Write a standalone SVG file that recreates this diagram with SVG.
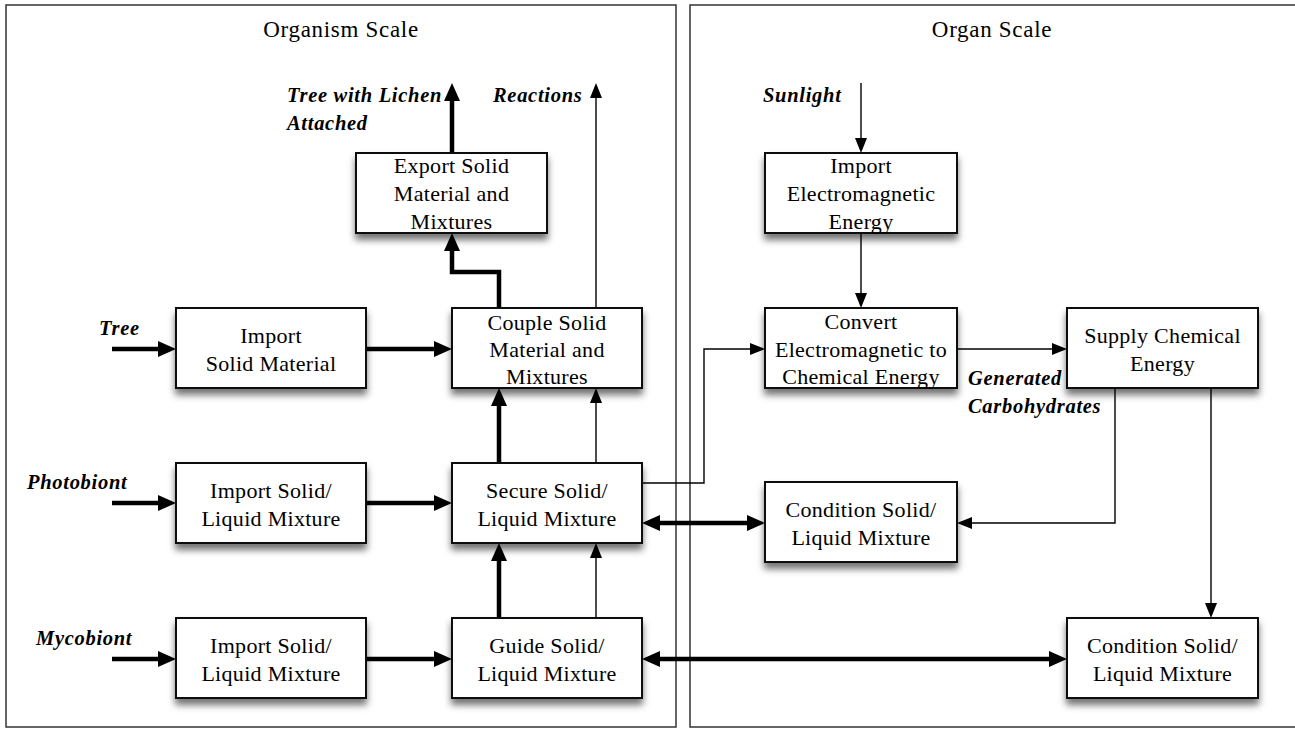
<svg xmlns="http://www.w3.org/2000/svg" width="1295" height="729" viewBox="0 0 1295 729">
<style>
.panel{fill:none;stroke:#333;stroke-width:1.5}
.box{fill:#fff;stroke:#111;stroke-width:2;filter:url(#sh)}
.bt{font-family:"Liberation Serif","Times New Roman",serif;font-size:22px;fill:#000;text-anchor:middle;letter-spacing:0.3px}
.hd{font-family:"Liberation Serif","Times New Roman",serif;font-size:23px;fill:#000;text-anchor:middle;letter-spacing:0.7px}
.lb{font-family:"Liberation Serif","Times New Roman",serif;font-size:20.5px;font-style:italic;font-weight:bold;fill:#000;letter-spacing:0.7px}
.thick{fill:none;stroke:#000;stroke-width:4.5;marker-end:url(#hT)}
.thin{fill:none;stroke:#000;stroke-width:1.4;marker-end:url(#ht)}
.thickb{fill:none;stroke:#000;stroke-width:4.5;marker-end:url(#hT);marker-start:url(#hT)}
</style>
<defs>
<filter id="sh" x="-10%" y="-10%" width="120%" height="150%">
<feDropShadow dx="0" dy="6" stdDeviation="3.5" flood-color="#000" flood-opacity="0.55"/>
</filter>
<marker id="hT" markerUnits="userSpaceOnUse" markerWidth="18" markerHeight="16" viewBox="0 0 18 16" refX="0" refY="8" orient="auto-start-reverse">
<path d="M0,0 L18,8 L0,16 z" fill="#000"/>
</marker>
<marker id="ht" markerUnits="userSpaceOnUse" markerWidth="15" markerHeight="12" viewBox="0 0 15 12" refX="0" refY="6" orient="auto-start-reverse">
<path d="M0,0 L15,6 L0,12 z" fill="#000"/>
</marker>
</defs>
<rect width="1295" height="729" fill="#fff"/>
<g id="panels">
<rect class="panel" x="6" y="5" width="670" height="722"/>
<rect class="panel" x="690" y="5" width="620" height="722"/>
<text class="hd" x="341" y="37">Organism Scale</text>
<text class="hd" x="992" y="37">Organ Scale</text>
</g>
<g id="connectors">
<path class="thick" d="M112,349 H158"/>
<path class="thick" d="M366,349 H434"/>
<path class="thick" d="M112,503 H158"/>
<path class="thick" d="M366,503 H434"/>
<path class="thick" d="M112,659 H158"/>
<path class="thick" d="M366,659 H434"/>
<path class="thick" d="M499,618 V561"/>
<path class="thin" d="M596,618 V558"/>
<path class="thick" d="M499,463 V406"/>
<path class="thin" d="M596,463 V403"/>
<path class="thick" d="M499,310 V272 H452 V251"/>
<path class="thick" d="M452,153 V101"/>
<path class="thin" d="M596,308 V98"/>
<path class="thickb" d="M660,523 H747"/>
<path class="thickb" d="M660,659 H1049"/>
<path class="thin" d="M642,483 H704 V349 H750"/>
<path class="thin" d="M861,83 V138"/>
<path class="thin" d="M861,233 V293"/>
<path class="thin" d="M957,349 H1052"/>
<path class="thin" d="M1115,388 V523 H972"/>
<path class="thin" d="M1211,388 V603"/>
</g>
<g id="labels">
<text class="lb" x="287" y="102">Tree with Lichen</text>
<text class="lb" x="287" y="130">Attached</text>
<text class="lb" x="493" y="102">Reactions</text>
<text class="lb" x="99" y="335">Tree</text>
<text class="lb" x="27" y="489">Photobiont</text>
<text class="lb" x="36" y="645">Mycobiont</text>
<text class="lb" x="763" y="102">Sunlight</text>
<text class="lb" x="968" y="385">Generated</text>
<text class="lb" x="968" y="413">Carbohydrates</text>
</g>
<g id="export">
<rect class="box" x="356" y="153" width="191" height="80"/>
<text class="bt" x="451.5" y="173">Export Solid</text>
<text class="bt" x="451.5" y="201">Material and</text>
<text class="bt" x="451.5" y="229">Mixtures</text>
</g>
<g id="import-solid">
<rect class="box" x="176" y="308" width="190" height="80"/>
<text class="bt" x="271" y="343">Import</text>
<text class="bt" x="271" y="371">Solid Material</text>
</g>
<g id="couple">
<rect class="box" x="452" y="308" width="190" height="80"/>
<text class="bt" x="547" y="330">Couple Solid</text>
<text class="bt" x="547" y="357">Material and</text>
<text class="bt" x="547" y="384">Mixtures</text>
</g>
<g id="import-photo">
<rect class="box" x="176" y="463" width="190" height="80"/>
<text class="bt" x="271" y="498">Import Solid/</text>
<text class="bt" x="271" y="526">Liquid Mixture</text>
</g>
<g id="secure">
<rect class="box" x="452" y="463" width="190" height="80"/>
<text class="bt" x="547" y="498">Secure Solid/</text>
<text class="bt" x="547" y="526">Liquid Mixture</text>
</g>
<g id="import-myco">
<rect class="box" x="176" y="618" width="190" height="80"/>
<text class="bt" x="271" y="653">Import Solid/</text>
<text class="bt" x="271" y="681">Liquid Mixture</text>
</g>
<g id="guide">
<rect class="box" x="452" y="618" width="190" height="80"/>
<text class="bt" x="547" y="653">Guide Solid/</text>
<text class="bt" x="547" y="681">Liquid Mixture</text>
</g>
<g id="import-em">
<rect class="box" x="765" y="153" width="192" height="80"/>
<text class="bt" x="861" y="173">Import</text>
<text class="bt" x="861" y="201">Electromagnetic</text>
<text class="bt" x="861" y="229">Energy</text>
</g>
<g id="convert">
<rect class="box" x="765" y="308" width="192" height="80"/>
<text class="bt" x="861" y="329">Convert</text>
<text class="bt" x="861" y="357">Electromagnetic to</text>
<text class="bt" x="861" y="384">Chemical Energy</text>
</g>
<g id="supply">
<rect class="box" x="1067" y="308" width="191" height="80"/>
<text class="bt" x="1162.5" y="343">Supply Chemical</text>
<text class="bt" x="1162.5" y="371">Energy</text>
</g>
<g id="condition-mid">
<rect class="box" x="765" y="482" width="192" height="80"/>
<text class="bt" x="861" y="517">Condition Solid/</text>
<text class="bt" x="861" y="545">Liquid Mixture</text>
</g>
<g id="condition-bottom">
<rect class="box" x="1067" y="618" width="191" height="80"/>
<text class="bt" x="1162.5" y="653">Condition Solid/</text>
<text class="bt" x="1162.5" y="681">Liquid Mixture</text>
</g>
</svg>
